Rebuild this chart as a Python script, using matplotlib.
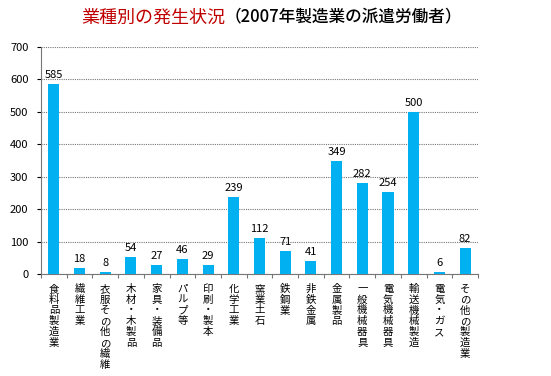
import numpy as np
import matplotlib
matplotlib.use("Agg")
import matplotlib.pyplot as plt

plt.rcParams['font.family'] = ['Noto Sans CJK JP', 'DejaVu Sans']

categories = ["食料品製造業", "繊維工業", "衣服その他の繊維", "木材・木製品", "家具・装備品",
              "パルプ等", "印刷・製本", "化学工業", "窯業土石", "鉄鋼業", "非鉄金属",
              "金属製品", "一般機械器具", "電気機械器具", "輸送機械製造", "電気・ガス",
              "その他の製造業"]
values = [585, 18, 8, 54, 27, 46, 29, 239, 112, 71, 41, 349, 282, 254, 500, 6, 82]

fig = plt.figure(figsize=(5.51, 3.76), dpi=100)
ax = fig.add_axes([0.0744, 0.271, 0.793, 0.604])

x = np.arange(len(categories))
ax.bar(x, values, width=0.43, color="#00B0F0", zorder=3)
for xi, v in zip(x, values):
    ax.text(xi, v + 12, str(v), ha="center", va="bottom", fontsize=8, zorder=4)

ax.set_xlim(-0.5, len(categories) - 0.5)
ax.set_ylim(0, 700)
ax.set_yticks(np.arange(0, 701, 100))
ax.tick_params(axis="y", labelsize=8, length=3, pad=6)
ax.yaxis.grid(True, color="#777777", linestyle=(0, (1, 1)), linewidth=0.8, zorder=0)

ax.set_xticks(np.arange(-0.5, len(categories), 1.0))
ax.set_xticklabels([])
ax.tick_params(axis="x", length=3, color="#777777")
for xi, name in zip(x, categories):
    ax.annotate("\n".join(name), xy=(xi, 0), xycoords=("data", "axes fraction"),
                xytext=(0, -7), textcoords="offset points", ha="center", va="top",
                fontsize=7.5, linespacing=1.1)

for s in ["top", "right"]:
    ax.spines[s].set_visible(False)
ax.spines["left"].set_color("#777777")
ax.spines["bottom"].set_color("#777777")

fig.text(0.408, 0.953, "業種別の発生状況", color="#C00000", fontsize=13, ha="right", va="center")
fig.text(0.408, 0.953, "（2007年製造業の派遣労働者）", color="black", fontsize=12, ha="left",
         va="center", fontweight="medium")

fig.savefig("out.png", dpi=100)
